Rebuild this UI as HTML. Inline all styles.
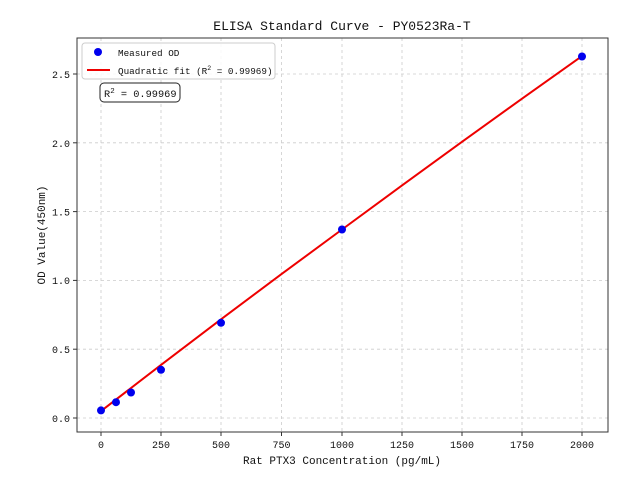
<!DOCTYPE html>
<html><head><meta charset="utf-8"><style>body{margin:0;background:#fff}</style></head><body>
<svg width="640" height="480" xmlns="http://www.w3.org/2000/svg" font-family="'Liberation Mono','WenQuanYi Zen Hei',monospace">
<rect width="640" height="480" fill="#fff"/>
<g stroke="#ccc" stroke-dasharray="3,3" stroke-width="0.8">
<line x1="101" y1="38" x2="101" y2="432"/><line x1="161" y1="38" x2="161" y2="432"/><line x1="221" y1="38" x2="221" y2="432"/><line x1="281.5" y1="38" x2="281.5" y2="432"/><line x1="342" y1="38" x2="342" y2="432"/><line x1="402" y1="38" x2="402" y2="432"/><line x1="462" y1="38" x2="462" y2="432"/><line x1="522" y1="38" x2="522" y2="432"/><line x1="582" y1="38" x2="582" y2="432"/>
<line x1="77" y1="418" x2="608" y2="418"/><line x1="77" y1="349.2" x2="608" y2="349.2"/><line x1="77" y1="280.4" x2="608" y2="280.4"/><line x1="77" y1="211.6" x2="608" y2="211.6"/><line x1="77" y1="142.8" x2="608" y2="142.8"/><line x1="77" y1="74" x2="608" y2="74"/>
</g>
<polyline fill="none" stroke="#e00" stroke-width="2" points="101,411.1 161,364.9 221,319.3 281.5,274.1 342,229.5 402,185.4 462,141.8 522,98.7 582,56.1"/>
<g fill="#0000ee">
<circle cx="101" cy="410.4" r="4"/><circle cx="116" cy="402.2" r="4"/><circle cx="131" cy="392.5" r="4"/><circle cx="161" cy="369.8" r="4"/><circle cx="221" cy="322.8" r="4"/><circle cx="342" cy="229.5" r="4"/><circle cx="582" cy="56.5" r="4"/>
</g>
<rect x="77" y="38" width="531" height="394" fill="none" stroke="#333" stroke-width="1"/>
<g stroke="#333"><line x1="101" y1="432" x2="101" y2="436"/><line x1="161" y1="432" x2="161" y2="436"/><line x1="221" y1="432" x2="221" y2="436"/><line x1="281.5" y1="432" x2="281.5" y2="436"/><line x1="342" y1="432" x2="342" y2="436"/><line x1="402" y1="432" x2="402" y2="436"/><line x1="462" y1="432" x2="462" y2="436"/><line x1="522" y1="432" x2="522" y2="436"/><line x1="582" y1="432" x2="582" y2="436"/>
<line x1="73" y1="418" x2="77" y2="418"/><line x1="73" y1="349.2" x2="77" y2="349.2"/><line x1="73" y1="280.4" x2="77" y2="280.4"/><line x1="73" y1="211.6" x2="77" y2="211.6"/><line x1="73" y1="142.8" x2="77" y2="142.8"/><line x1="73" y1="74" x2="77" y2="74"/></g>
<g font-size="10" fill="#111" text-anchor="middle">
<text x="101" y="448">0</text><text x="161" y="448">250</text><text x="221" y="448">500</text><text x="281.5" y="448">750</text><text x="342" y="448">1000</text><text x="402" y="448">1250</text><text x="462" y="448">1500</text><text x="522" y="448">1750</text><text x="582" y="448">2000</text>
</g>
<g font-size="10" fill="#111" text-anchor="end">
<text x="70" y="422">0.0</text><text x="70" y="353">0.5</text><text x="70" y="284">1.0</text><text x="70" y="215.5">1.5</text><text x="70" y="147">2.0</text><text x="70" y="78">2.5</text>
</g>
<text x="342" y="464" font-size="11" text-anchor="middle" fill="#111">Rat PTX3 Concentration (pg/mL)</text>
<text transform="translate(45,235) rotate(-90)" font-size="11" text-anchor="middle" fill="#111">OD Value(450nm)</text>
<text x="342" y="30" font-size="13" text-anchor="middle" fill="#111">ELISA Standard Curve - PY0523Ra-T</text>
<rect x="82" y="43" width="193" height="36" rx="3" fill="#fff" fill-opacity="0.85" stroke="#ccc"/>
<circle cx="98" cy="52" r="4" fill="#0000ee"/>
<text x="118" y="56" font-size="9.3" fill="#111">Measured OD</text>
<line x1="87" y1="70" x2="110" y2="70" stroke="#e00" stroke-width="2"/>
<text x="118" y="74" font-size="9.3" fill="#111">Quadratic fit (R<tspan dy="-4" font-size="6.5">2</tspan><tspan dy="4"> = 0.99969)</tspan></text>
<rect x="100" y="83" width="80" height="19" rx="4" fill="#fff" stroke="#222"/>
<text x="104" y="97" font-size="10.3" fill="#111">R<tspan dy="-4" font-size="7.5">2</tspan><tspan dy="4"> = 0.99969</tspan></text>
</svg>
</body></html>
